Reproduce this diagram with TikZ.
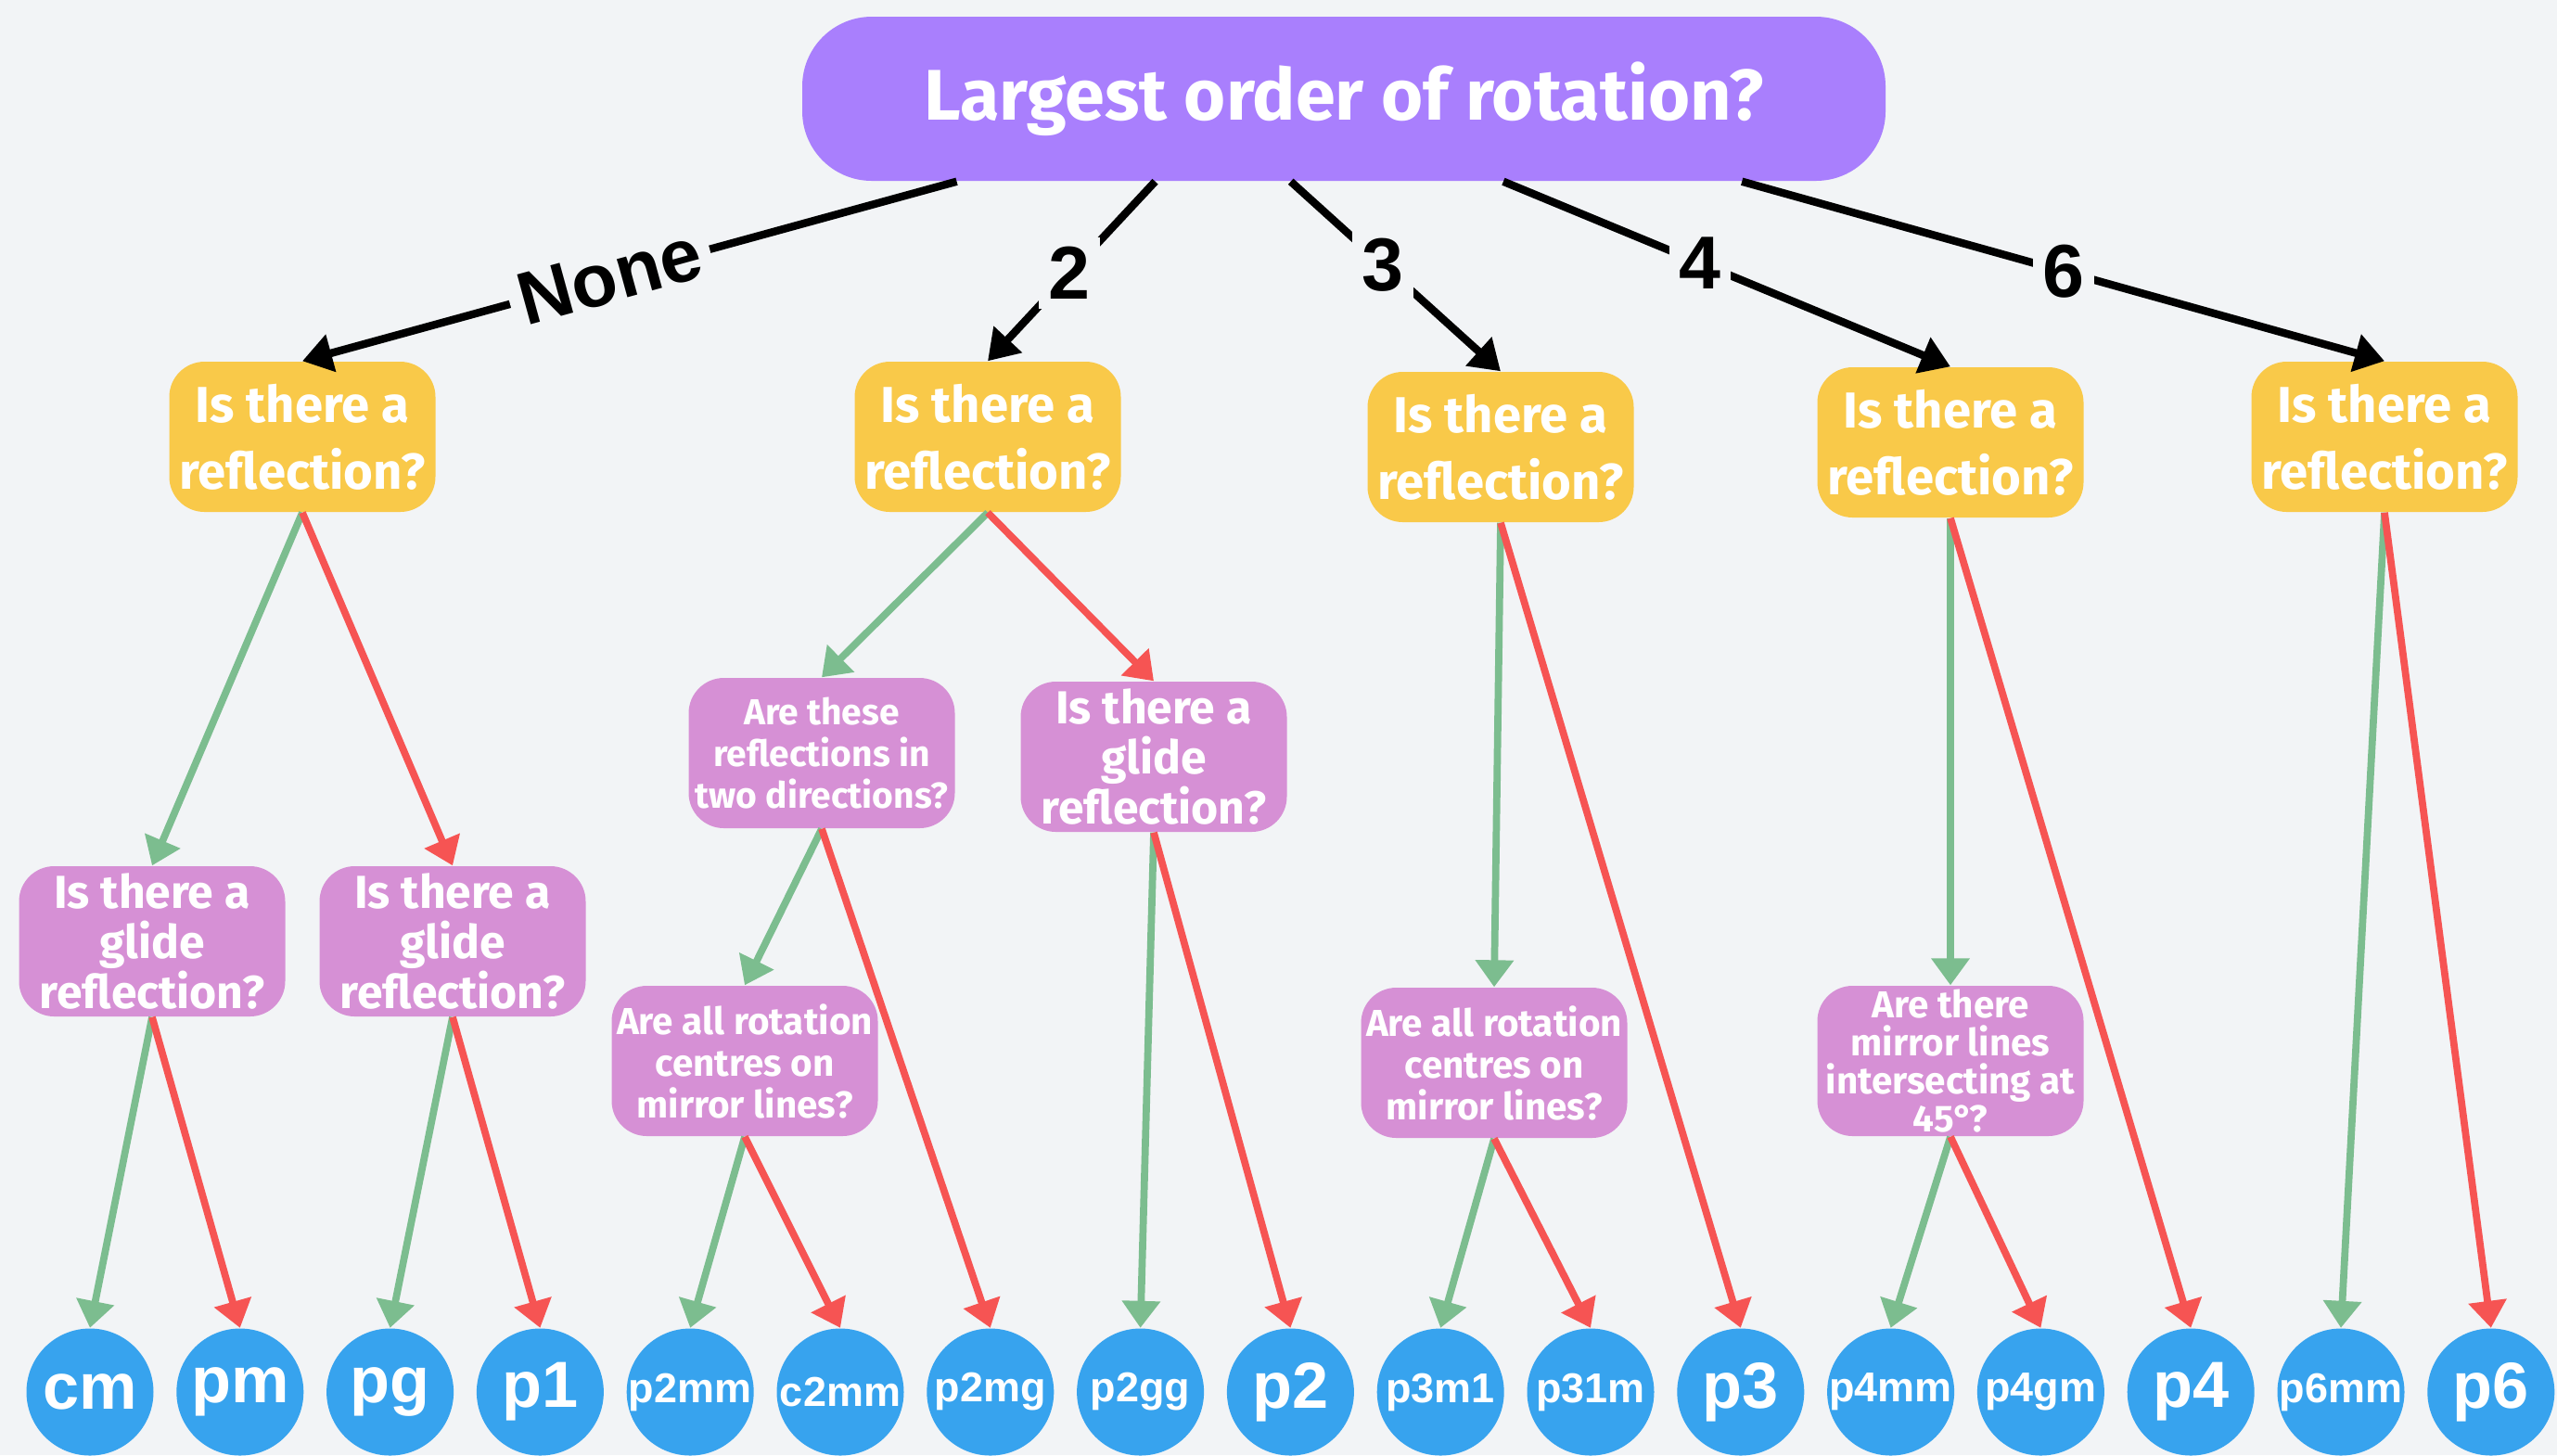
\documentclass[tikz,border=0pt]{standalone}
\usepackage{fontspec}
\newfontfamily\boxfont{Fira Sans}
\newfontfamily\grpfont{Liberation Sans}
\usetikzlibrary{arrows.meta,calc}

\definecolor{bgcol}{HTML}{F2F4F6}
\definecolor{topcol}{HTML}{A97FFD}
\definecolor{reflcol}{HTML}{F9C949}
\definecolor{questcol}{HTML}{D690D5}
\definecolor{grpcol}{HTML}{37A3EE}
\definecolor{yescol}{HTML}{7CBD8F}
\definecolor{nocol}{HTML}{F65453}

\begin{document}
\begin{tikzpicture}[
  top node/.style={rectangle,rounded corners=0.75cm,fill=topcol,text=white,minimum width=11.68cm,minimum height=1.77cm,font=\boxfont\bfseries\fontsize{22}{26}\selectfont},
  refl node/.style={rectangle,rounded corners=0.38cm,fill=reflcol,text=white,minimum width=2.87cm,minimum height=1.62cm,align=center,inner sep=1pt,font=\boxfont\bfseries\fontsize{15.5}{20.5}\selectfont},
  glide node/.style={refl node,fill=questcol,font=\boxfont\bfseries\fontsize{14.2}{15.5}\selectfont},
  quest node/.style={refl node,fill=questcol,font=\boxfont\bfseries\fontsize{11.5}{12.8}\selectfont},
  group node/.style={circle,fill=grpcol,text=white,minimum size=1.37cm,inner sep=-4pt,font=\grpfont\bfseries\fontsize{12.8}{12.8}\selectfont},
  big group/.style={group node,font=\grpfont\bfseries\fontsize{20}{20}\selectfont},
  order/.style={-{Triangle[length=0.32cm,width=0.4cm]},line width=2.4pt,black},
  order label/.style={fill=bgcol,inner sep=3pt,text=black,font=\grpfont\bfseries\fontsize{23}{23}\selectfont},
  yes/.style={-{Triangle[length=0.29cm,width=0.4cm]},line width=2.2pt,yescol},
  no/.style={yes,nocol}]

\fill[bgcol] (0,0) rectangle (27.57,-15.69);
\useasboundingbox (0,0) rectangle (27.57,-15.69);

\node[top node] (top) at (14.49,-1.065) {Largest order of rotation?};

% reflection questions
\node[refl node] (r1) at (3.26,-4.71) {Is there a\\reflection?};
\node[refl node] (r2) at (10.65,-4.71) {Is there a\\reflection?};
\node[refl node] (r3) at (16.18,-4.82) {Is there a\\reflection?};
\node[refl node] (r4) at (21.03,-4.77) {Is there a\\reflection?};
\node[refl node] (r6) at (25.71,-4.71) {Is there a\\reflection?};

% second questions
\node[glide node] (g1a) at (1.64,-10.15) {Is there a\\glide\\reflection?};
\node[glide node] (g1b) at (4.88,-10.15) {Is there a\\glide\\reflection?};
\node[quest node,font=\boxfont\bfseries\fontsize{11.1}{12.8}\selectfont] (dir2) at (8.86,-8.12) {Are these\\reflections in\\two directions?};
\node[glide node] (g2) at (12.44,-8.16) {Is there a\\glide\\reflection?};
\node[quest node] (cen2) at (8.03,-11.44) {Are all rotation\\centres on\\mirror lines?};
\node[quest node] (cen3) at (16.11,-11.46) {Are all rotation\\centres on\\mirror lines?};
\node[quest node,font=\boxfont\bfseries\fontsize{11.5}{11.6}\selectfont] (ang4) at (21.03,-11.44) {Are there\\mirror lines\\intersecting at\\45°?};

% wallpaper groups
\node[big group] (cm) at (0.97,-15.01) {cm};
\node[big group] (pm) at ($(cm) + (1.618,0)$) {pm};
\node[big group] (pg) at ($(pm) + (1.618,0)$) {pg};
\node[big group] (p1) at ($(pg) + (1.618,0)$) {p1};
\node[group node] (p2mm) at ($(p1) + (1.618,0)$) {p2mm};
\node[group node] (c2mm) at ($(p2mm) + (1.618,0)$) {c2mm};
\node[group node] (p2mg) at ($(c2mm) + (1.618,0)$) {p2mg};
\node[group node] (p2gg) at ($(p2mg) + (1.618,0)$) {p2gg};
\node[big group] (p2) at ($(p2gg) + (1.618,0)$) {p2};
\node[group node] (p3m1) at ($(p2) + (1.618,0)$) {p3m1};
\node[group node] (p31m) at ($(p3m1) + (1.618,0)$) {p31m};
\node[big group] (p3) at ($(p31m) + (1.618,0)$) {p3};
\node[group node] (p4mm) at ($(p3) + (1.618,0)$) {p4mm};
\node[group node] (p4gm) at ($(p4mm) + (1.618,0)$) {p4gm};
\node[big group] (p4) at ($(p4gm) + (1.618,0)$) {p4};
\node[group node] (p6mm) at ($(p4) + (1.618,0)$) {p6mm};
\node[big group] (p6) at ($(p6mm) + (1.618,0)$) {p6};

\coordinate (o1) at ($(top.south west)!0.143!(top.south east)$);
\coordinate (o2) at ($(top.south west)!0.326!(top.south east)$);
\coordinate (o3) at ($(top.south west)!0.451!(top.south east)$);
\coordinate (o4) at ($(top.south west)!0.647!(top.south east)$);
\coordinate (o6) at ($(top.south west)!0.867!(top.south east)$);

\path
(o1) edge[order] node[order label,sloped,pos=0.53] {None} (r1.north)
(o2) edge[order] node[order label,pos=0.51] {2} (r2.north)
(o3) edge[order] node[order label,pos=0.44] {3} (r3.north)
(o4) edge[order] node[order label,pos=0.44] {4} (r4.north)
(o6) edge[order] node[order label,pos=0.50] {6} (r6.north);

\path
(r1.south) edge[yes] (g1a.north)
(r1.south) edge[no] (g1b.north)
(g1a.south) edge[yes] (cm.north)
(g1a.south) edge[no] (pm.north)
(g1b.south) edge[yes] (pg.north)
(g1b.south) edge[no] (p1.north)
(r2.south) edge[yes] (dir2.north)
(r2.south) edge[no] (g2.north)
(dir2.south) edge[yes] (cen2.north)
(dir2.south) edge[no] (p2mg.north)
(cen2.south) edge[yes] (p2mm.north)
(cen2.south) edge[no] (c2mm.north)
(g2.south) edge[yes] (p2gg.north)
(g2.south) edge[no] (p2.north)
(r3.south) edge[yes] (cen3.north)
(r3.south) edge[no] (p3.north)
(cen3.south) edge[yes] (p3m1.north)
(cen3.south) edge[no] (p31m.north)
(r4.south) edge[yes] (ang4.north)
(r4.south) edge[no] (p4.north)
(ang4.south) edge[yes] (p4mm.north)
(ang4.south) edge[no] (p4gm.north)
(r6.south) edge[yes] (p6mm.north)
(r6.south) edge[no] (p6.north);

\end{tikzpicture}
\end{document}
